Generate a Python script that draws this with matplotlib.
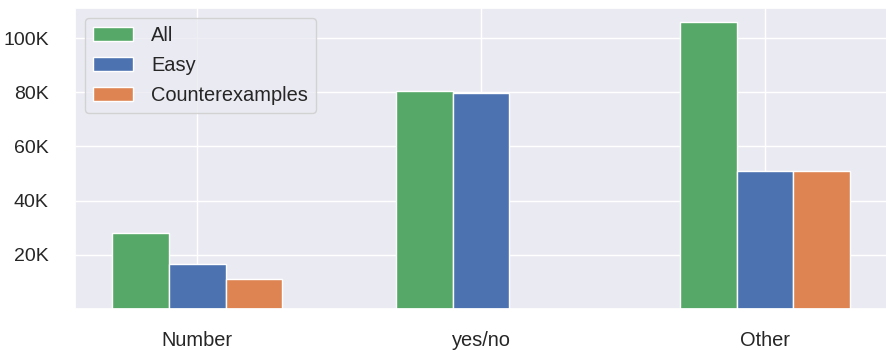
import matplotlib
matplotlib.use("Agg")
import matplotlib.pyplot as plt
import numpy as np
import seaborn as sns

sns.set_theme(style="darkgrid")
plt.rcParams['font.family'] = ['Liberation Sans', 'DejaVu Sans']

categories = ['Number', 'yes/no', 'Other']
all_counts = [28200, 80400, 105800]
easy_counts = [16500, 79800, 51100]
counter_counts = [11000, 0, 51100]

yticks = [20000, 40000, 60000, 80000, 100000]
ytick_labels = ['20K', '40K', '60K', '80K', '100K']

fig = plt.figure(figsize=(8.87, 3.5), dpi=100)
ax = fig.add_axes([0.0846, 0.117, 0.9154, 0.86])

x = np.arange(len(categories))
w = 0.2
ax.bar(x - w, all_counts, w, label='All', color='#55A868')
ax.bar(x, easy_counts, w, label='Easy', color='#4C72B0')
ax.bar(x + w, counter_counts, w, label='Counterexamples', color='#DD8452')

ax.set_xticks(x)
ax.set_xticklabels(categories, fontsize=14.4)
ax.set_yticks(yticks)
ax.set_yticklabels(ytick_labels, fontsize=14)
ax.tick_params(axis='x', pad=10)
ax.tick_params(axis='y', pad=13)

ax.legend(loc='upper left', fontsize=14.4, labelspacing=0.55,
          handletextpad=0.9)

fig.savefig('out.png', dpi=100)
